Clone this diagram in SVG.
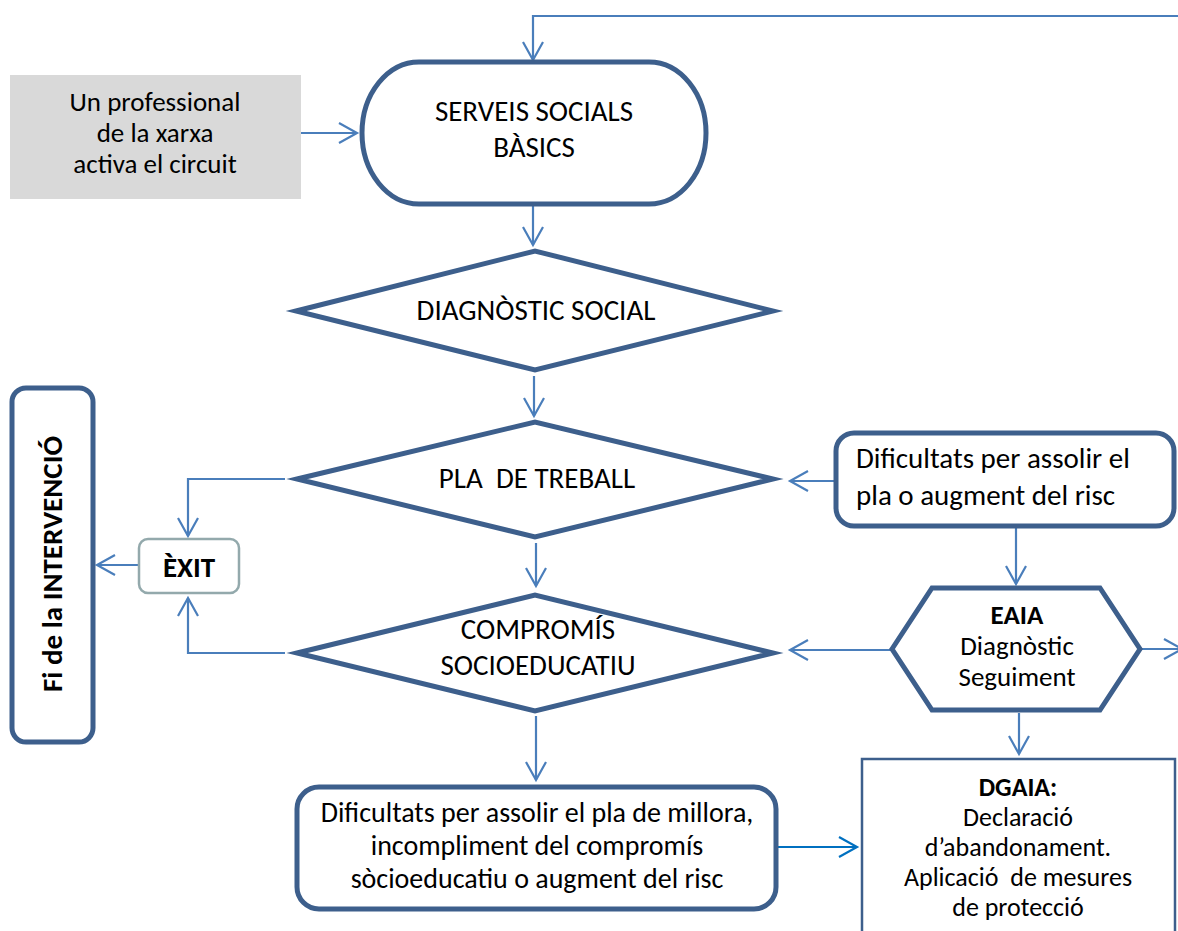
<svg xmlns="http://www.w3.org/2000/svg" width="1178" height="931" viewBox="0 0 1178 931">
<style>
  text { font-family: Carlito, Calibri, Lato, "Liberation Sans", sans-serif; font-size: 29px; fill: #000; }
  .c { text-anchor: middle; }
  .b { font-weight: bold; }
  .s26 { font-size: 26px; }
  .s27 { font-size: 27px; }
  .s28 { font-size: 28px; }
  .node { fill: #fff; stroke: #3d5f8c; stroke-width: 5; stroke-linejoin: miter; stroke-miterlimit: 10; }
  .thin { fill: #fff; stroke: #3d5f8c; stroke-width: 2.5; }
  .conn { fill: none; stroke: #4a7ebb; stroke-width: 2.2; marker-end: url(#ah); }
  .conn2 { fill: none; stroke: #0070c0; stroke-width: 2.2; marker-end: url(#ah2); }
</style>
<defs>
  <marker id="ah" viewBox="-22 -14 26 28" refX="0" refY="0" markerWidth="26" markerHeight="28" markerUnits="userSpaceOnUse" orient="auto" overflow="visible">
    <path d="M-18,-10 L0,0 L-18,10" fill="none" stroke="#4a7ebb" stroke-width="2.2"/>
  </marker>
  <marker id="ah2" viewBox="-22 -14 26 28" refX="0" refY="0" markerWidth="26" markerHeight="28" markerUnits="userSpaceOnUse" orient="auto" overflow="visible">
    <path d="M-18,-10 L0,0 L-18,10" fill="none" stroke="#0070c0" stroke-width="2.2"/>
  </marker>
</defs>

<g id="connectors">
  <path class="conn" d="M1180,16 H533 V60"/>
  <path class="conn" d="M301,133 H357"/>
  <path class="conn" d="M533,205 V245"/>
  <path class="conn" d="M534,376 V416"/>
  <path class="conn" d="M536,543 V586"/>
  <path class="conn" d="M536,716 V780"/>
  <path class="conn2" d="M777,847 H857"/>
  <path class="conn" d="M836,481 H790"/>
  <path class="conn" d="M1016,527 V584"/>
  <path class="conn" d="M892,650 H790"/>
  <path class="conn" d="M1140,649 H1182"/>
  <path class="conn" d="M1019,713 V754"/>
  <path class="conn" d="M285,479 H188 V536"/>
  <path class="conn" d="M285,653 H188 V598"/>
  <path class="conn" d="M139,565 H97"/>
</g>

<g id="n-professional">
  <rect x="10" y="75" width="291" height="124" fill="#d9d9d9"/>
  <text class="c s27" x="155" y="111">Un professional</text>
  <text class="c s27" x="155" y="142">de la xarxa</text>
  <text class="c s27" x="155" y="173">activa el circuit</text>
</g>

<g id="n-serveis">
  <rect class="node" x="362" y="62" width="344" height="142" rx="57" ry="71"/>
  <text class="c" x="534" y="121">SERVEIS SOCIALS</text>
  <text class="c" x="534" y="157">BÀSICS</text>
</g>

<g id="n-diagnostic">
  <polygon class="node" points="296,311 535,251 773,311 535,370"/>
  <text class="c" x="536" y="320">DIAGNÒSTIC SOCIAL</text>
</g>

<g id="n-pla">
  <polygon class="node" points="297,479 535,422 773,479 535,537"/>
  <text class="c" x="537" y="488" xml:space="preserve">PLA  DE TREBALL</text>
</g>

<g id="n-compromis">
  <polygon class="node" points="297,653 535,595 773,653 535,711"/>
  <text class="c" x="538" y="639">COMPROMÍS</text>
  <text class="c" x="538" y="675">SOCIOEDUCATIU</text>
</g>

<g id="n-dificultats-millora">
  <rect class="node" x="297" y="787" width="479" height="122" rx="22"/>
  <text class="c s28" x="537" y="822">Dificultats per assolir el pla de millora,</text>
  <text class="c s28" x="537" y="855">incompliment del compromís</text>
  <text class="c s28" x="537" y="888">sòcioeducatiu o augment del risc</text>
</g>

<g id="n-dificultats-pla">
  <rect class="node" x="836" y="433" width="338" height="93" rx="18"/>
  <text x="856" y="468">Dificultats per assolir el</text>
  <text x="856" y="505">pla o augment del risc</text>
</g>

<g id="n-eaia">
  <polygon class="node" points="892,649 932,588 1100,588 1140,649 1100,710 932,710"/>
  <text class="c b s27" x="1017" y="624">EAIA</text>
  <text class="c s27" x="1017" y="655">Diagnòstic</text>
  <text class="c s27" x="1017" y="686">Seguiment</text>
</g>

<g id="n-dgaia">
  <rect class="thin" x="862" y="759" width="313" height="200"/>
  <text class="c b s26" x="1018" y="796">DGAIA:</text>
  <text class="c s26" x="1018" y="826">Declaració</text>
  <text class="c s26" x="1018" y="856">d’abandonament.</text>
  <text class="c s26" x="1018" y="886" xml:space="preserve">Aplicació  de mesures</text>
  <text class="c s26" x="1018" y="916">de protecció</text>
</g>

<g id="n-exit">
  <rect x="139" y="539" width="100" height="54" rx="9" fill="#fff" stroke="#93a9ac" stroke-width="2.5"/>
  <text class="c b" x="189" y="577">ÈXIT</text>
</g>

<g id="n-fi">
  <rect class="node" x="12" y="388" width="81" height="354" rx="14"/>
  <text class="c b" transform="translate(62,564) rotate(-90)">Fi de la INTERVENCIÓ</text>
</g>
</svg>
